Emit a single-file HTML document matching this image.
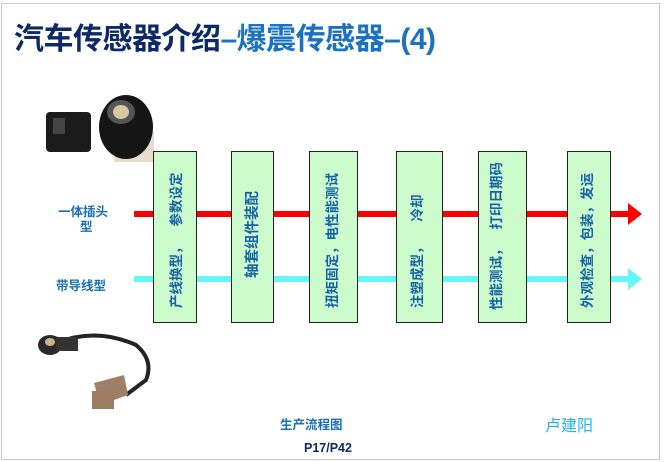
<!DOCTYPE html>
<html><head><meta charset="utf-8"><style>
body{margin:0;width:664px;height:462px;background:#fff;position:relative;overflow:hidden;font-family:"Liberation Sans","Noto Sans CJK SC",sans-serif}
.frame{position:absolute;left:1px;top:3px;width:657px;height:455px;border:1px solid #c8c8c8}
.t{position:absolute;white-space:nowrap}
.box{position:absolute;top:151px;height:172px;background:#ccfccc;border:1.5px solid #222;box-sizing:border-box}
.v{position:absolute;white-space:nowrap;font-size:13.5px;line-height:20px;font-weight:bold;color:#1660a8;transform:rotate(-90deg);transform-origin:0 0}
</style></head><body>
<div class="frame"></div>
<div class="t" style="left:14px;top:14px;font-size:30px;font-weight:bold;color:#0d2a66;letter-spacing:-0.5px">汽车传感器介绍<span style="color:#1a72c0">–爆震传感器–(4)</span></div>

<svg style="position:absolute;left:36px;top:92px" width="120" height="70">
<rect x="78" y="40" width="40" height="30" fill="#e8dccb"/>
<rect x="10" y="20" width="45" height="40" rx="4" fill="#1b1b1b"/>
<rect x="17" y="26" width="12" height="16" fill="#444"/>
<ellipse cx="90" cy="35" rx="27" ry="32" fill="#151515"/>
<ellipse cx="85" cy="20" rx="14" ry="12" fill="#555"/>
<ellipse cx="85" cy="20" rx="8" ry="7" fill="#d8c8a0"/>
</svg>
<svg style="position:absolute;left:36px;top:325px" width="120" height="90">
<path d="M20 18 Q60 2 100 20 Q118 35 110 55 L90 70" stroke="#222" stroke-width="4" fill="none"/>
<ellipse cx="14" cy="20" rx="12" ry="10" fill="#2a2a2a"/>
<ellipse cx="14" cy="17" rx="5" ry="4" fill="#c9b38a"/>
<rect x="20" y="12" width="22" height="14" fill="#333"/>
<path d="M58 58 L88 50 L92 70 L64 80 Z" fill="#a07f68"/>
<rect x="56" y="66" width="22" height="18" fill="#9e7c64"/>
</svg>

<div class="t" style="left:58px;top:201px;font-size:12.5px;font-weight:bold;color:#1a6fb0">一体插头</div>
<div class="t" style="left:80px;top:216px;font-size:12.5px;font-weight:bold;color:#1a6fb0">型</div>
<div class="t" style="left:56px;top:275px;font-size:12.5px;font-weight:bold;color:#1a6fb0">带导线型</div>

<div style="position:absolute;left:134px;top:211px;width:496px;height:6px;background:#ff0000"></div>
<div style="position:absolute;left:628px;top:203px;width:0;height:0;border-top:11px solid transparent;border-bottom:11px solid transparent;border-left:14px solid #ff0000"></div>
<div style="position:absolute;left:134px;top:276px;width:496px;height:6px;background:#66f6f6"></div>
<div style="position:absolute;left:628px;top:268px;width:0;height:0;border-top:11px solid transparent;border-bottom:11px solid transparent;border-left:14px solid #66f6f6"></div>

<div class="box" style="left:153px;width:44px"></div>
<div class="box" style="left:231px;width:43px"></div>
<div class="box" style="left:309px;width:49px"></div>
<div class="box" style="left:396px;width:47px"></div>
<div class="box" style="left:478px;width:49px"></div>
<div class="box" style="left:567px;width:44px"></div>

<div class="v" style="left:167px;top:308px">产线换型，<span style="display:inline-block;width:14px"></span>参数设定</div>
<div class="v" style="left:243px;top:278px;font-size:14.5px">轴套组件装配</div>
<div class="v" style="left:323px;top:308px">扭矩固定，电性能测试</div>
<div class="v" style="left:408px;top:308px">注塑成型，<span style="display:inline-block;width:19px"></span>冷却</div>
<div class="v" style="left:487px;top:310px">性能测试，<span style="display:inline-block;width:13px"></span>打印日期码</div>
<div class="v" style="left:578px;top:308px">外观检查，包装，发运</div>

<div class="t" style="left:280px;top:414px;font-size:12.5px;font-weight:bold;color:#1a6fb0">生产流程图</div>
<div class="t" style="left:304px;top:441px;font-size:12.5px;font-weight:bold;color:#0d2a66">P17/P42</div>
<div class="t" style="left:545px;top:412px;font-size:16px;color:#22b4e8">卢建阳</div>
</body></html>
